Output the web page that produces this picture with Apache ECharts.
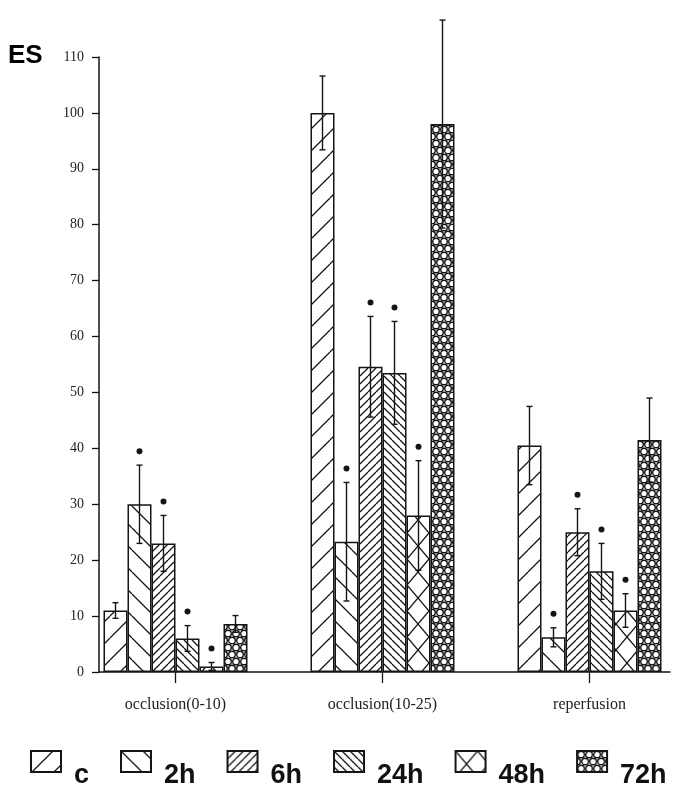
<!DOCTYPE html>
<html>
<head>
<meta charset="utf-8">
<script src="https://cdn.jsdelivr.net/npm/echarts@6/dist/echarts.min.js"></script>
<style>
  html, body { margin: 0; padding: 0; background: #fff; }
  #chart { width: 693px; height: 812px; }
</style>
</head>
<body>
<div id="chart"></div>
<script>
// groups on the x axis and the six time points
const groups = ['occlusion(0-10)', 'occlusion(10-25)', 'reperfusion'];
const times = ['c', '2h', '6h', '24h', '48h', '72h'];
const yTicks = [0, 10, 20, 30, 40, 50, 60, 70, 80, 90, 100, 110];

// mean ES per group
const meanC = [11, 100, 40.5];
const mean2h = [30, 23.3, 6.2];
const mean6h = [23, 54.6, 25];
const mean24h = [6, 53.5, 18];
const mean48h = [1, 28, 11];
const mean72h = [8.6, 98, 41.5];

// error bar half-lengths
const sdC = [1.4, 6.6, 7];
const sd2h = [7, 10.6, 1.7];
const sd6h = [5, 9, 4.2];
const sd24h = [2.3, 9.2, 5];
const sd48h = [0.7, 9.8, 3];
const sd72h = [1.5, 18.6, 7.5];

// significance marks (1 = dot above the error bar)
const sigC = [0, 0, 0];
const sig2h = [1, 1, 1];
const sig6h = [1, 1, 1];
const sig24h = [1, 1, 1];
const sig48h = [1, 1, 1];
const sig72h = [0, 0, 0];

const means = [meanC, mean2h, mean6h, mean24h, mean48h, mean72h];
const sds = [sdC, sd2h, sd6h, sd24h, sd48h, sd72h];
const sigs = [sigC, sig2h, sig6h, sig24h, sig48h, sig72h];

const ink = '#151515';
const barW = 24;

// hatch fills drawn on small canvases
function makePattern(w, h, draw) {
  const cv = document.createElement('canvas');
  cv.width = w;
  cv.height = h;
  const ctx = cv.getContext('2d');
  ctx.fillStyle = '#fff';
  ctx.fillRect(0, 0, w, h);
  ctx.strokeStyle = ink;
  ctx.lineWidth = 1.3;
  draw(ctx, w, h);
  return { image: cv, repeat: 'repeat' };
}
function slash(ctx, w, h) {
  ctx.beginPath();
  for (let k = -1; k <= 1; k++) {
    ctx.moveTo(k * w, h);
    ctx.lineTo(k * w + w, 0);
  }
  ctx.stroke();
}
function backslash(ctx, w, h) {
  ctx.beginPath();
  for (let k = -1; k <= 1; k++) {
    ctx.moveTo(k * w, 0);
    ctx.lineTo(k * w + w, h);
  }
  ctx.stroke();
}
function circles(ctx, w, h) {
  ctx.lineWidth = 1.4;
  [[w / 2, h / 4], [0, h * 3 / 4], [w, h * 3 / 4], [w / 2, h * 5 / 4], [w / 2, -h / 4],
   [0, -h / 4], [w, -h / 4]].forEach(function (c) {
    ctx.beginPath();
    ctx.arc(c[0], c[1], 3.3, 0, Math.PI * 2);
    ctx.stroke();
  });
}

const fills = [
  makePattern(22, 22, slash),
  makePattern(22, 22, backslash),
  makePattern(8, 8, slash),
  makePattern(8, 8, backslash),
  makePattern(22, 26, function (ctx, w, h) { slash(ctx, w, h); backslash(ctx, w, h); }),
  makePattern(8, 14, circles)
];

const chart = echarts.init(document.getElementById('chart'));

const barSeries = times.map(function (t, i) {
  return {
    name: t,
    type: 'bar',
    xAxisIndex: 1,
    yAxisIndex: 1,
    barWidth: barW,
    barGap: '0%',
    data: means[i],
    itemStyle: { color: fills[i], borderColor: ink, borderWidth: 1.5 },
    emphasis: { disabled: true }
  };
});

// error bars + significance dots
const errData = [];
times.forEach(function (t, i) {
  groups.forEach(function (g, j) {
    errData.push([j, i, means[i][j], sds[i][j], sigs[i][j]]);
  });
});

const errSeries = {
  type: 'custom',
  name: 'err',
  xAxisIndex: 1,
  yAxisIndex: 1,
  clip: false,
  z: 5,
  encode: { x: 0, y: 2 },
  data: errData,
  renderItem: function (params, api) {
    const cat = api.value(0);
    const ti = api.value(1);
    const m = api.value(2);
    const sd = api.value(3);
    const x = api.coord([cat, 0])[0] + (ti - 2.5) * barW;
    const yT = api.coord([cat, m + sd])[1];
    const yB = api.coord([cat, m - sd])[1];
    const st = { stroke: ink, lineWidth: 1.4 };
    const kids = [
      { type: 'line', shape: { x1: x, y1: yT, x2: x, y2: yB }, style: st },
      { type: 'line', shape: { x1: x - 3, y1: yT, x2: x + 3, y2: yT }, style: st },
      { type: 'line', shape: { x1: x - 3, y1: yB, x2: x + 3, y2: yB }, style: st }
    ];
    if (api.value(4)) {
      kids.push({ type: 'circle', shape: { cx: x, cy: yT - 14, r: 3 }, style: { fill: ink } });
    }
    return { type: 'group', children: kids };
  }
};

chart.setOption({
  animation: false,
  backgroundColor: '#fff',
  grid: [
    { left: 99, right: 23, top: 57, bottom: 140 },
    { left: 72, width: 627, top: 57, bottom: 140 }
  ],
  graphic: [{
    type: 'text',
    x: 8,
    y: 56,
    style: { text: 'ES', fill: '#000', font: 'bold 26px "Liberation Sans", Arial, sans-serif', verticalAlign: 'middle' }
  }],
  legend: {
    data: times,
    left: 25,
    top: 745,
    itemWidth: 30,
    itemHeight: 21,
    itemGap: 31,
    icon: 'rect',
    selectedMode: false,
    formatter: '{t|{name}}',
    textStyle: {
      rich: {
        t: {
          fontFamily: '"Liberation Sans", Arial, sans-serif',
          fontWeight: 'bold',
          fontSize: 27,
          color: '#111',
          padding: [28, 0, 0, 8]
        }
      }
    }
  },
  xAxis: [
    {
      gridIndex: 0,
      type: 'value',
      min: 0,
      max: 1,
      axisLine: { show: true, lineStyle: { color: ink, width: 1.5 } },
      axisTick: { show: false },
      axisLabel: { show: false },
      splitLine: { show: false }
    },
    {
      gridIndex: 1,
      type: 'category',
      data: groups,
      axisLine: { show: false },
      axisTick: { show: true, alignWithLabel: true, length: 11, lineStyle: { color: ink, width: 1.3 } },
      axisLabel: {
        margin: 25,
        fontFamily: '"Liberation Serif", "Times New Roman", serif',
        fontSize: 16,
        color: '#222'
      }
    }
  ],
  yAxis: [
    {
      gridIndex: 0,
      type: 'value',
      min: yTicks[0],
      max: yTicks[yTicks.length - 1],
      interval: 10,
      axisLine: { show: true, lineStyle: { color: ink, width: 1.5 } },
      axisTick: { show: true, length: 7, lineStyle: { color: ink, width: 1.3 } },
      axisLabel: {
        margin: 15,
        fontFamily: '"Liberation Serif", "Times New Roman", serif',
        fontSize: 14,
        color: '#222'
      },
      splitLine: { show: false }
    },
    {
      gridIndex: 1,
      type: 'value',
      min: yTicks[0],
      max: yTicks[yTicks.length - 1],
      show: false
    }
  ],
  series: barSeries.concat([errSeries])
});
</script>
</body>
</html>
